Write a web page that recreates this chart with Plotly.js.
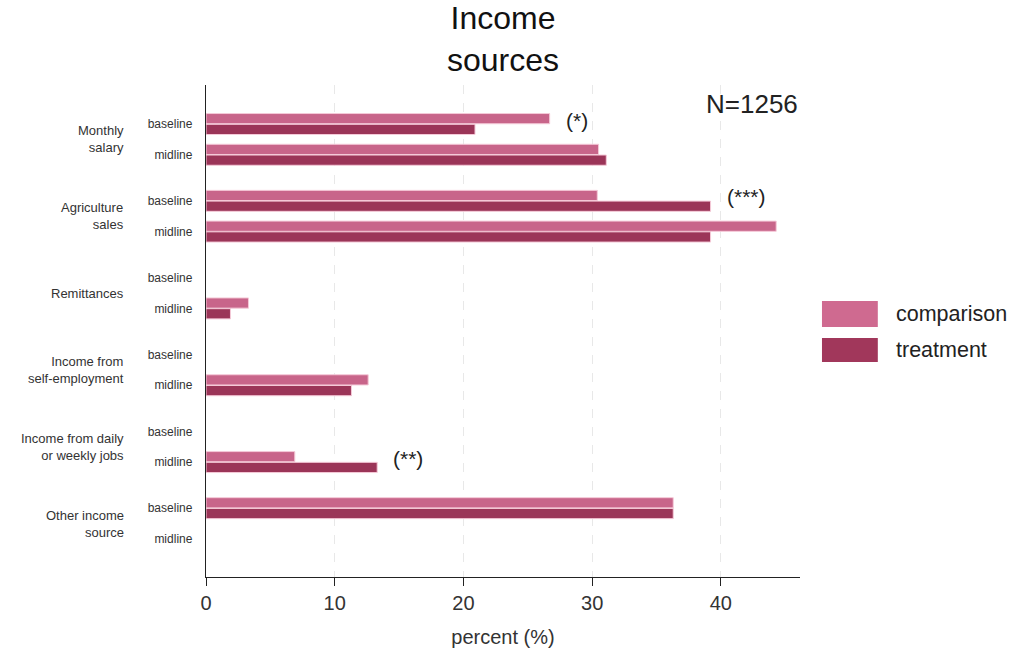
<!DOCTYPE html>
<html>
<head>
<meta charset="utf-8">
<script src="https://cdn.plot.ly/plotly-3.0.1.min.js"></script>
<style>
  html, body { margin: 0; padding: 0; background: #fff; }
  #chart { width: 1013px; height: 652px; }
</style>
</head>
<body>
<div id="chart"></div>
<script>
// Income source categories (group labels) and survey waves
const groups = ['Monthly<br>salary', 'Agriculture<br>sales', 'Remittances',
                'Income from<br>self-employment', 'Income from daily<br>or weekly jobs',
                'Other income<br>source'];
const waves = ['baseline', 'midline'];

// Share of households (%) reporting each income source
const comparisonBaseline = [26.7, 30.4, null, null, null, 36.3];
const comparisonMidline  = [30.5, 44.3, 3.3, 12.6, 6.9, null];
const treatmentBaseline  = [20.9, 39.2, null, null, null, 36.3];
const treatmentMidline   = [31.1, 39.2, 1.9, 11.3, 13.3, null];

// Significance of the comparison/treatment difference
const sigBaseline = ['(*)', '(***)', '', '', '', ''];
const sigMidline  = ['', '', '', '', '(**)', ''];

const sampleNote = 'N=1256';
const seriesNames = ['comparison', 'treatment'];
const colors = ['#c8658a', '#9b3558'];
const swatchColors = ['#cf6a90', '#a1375b'];

// Row positions: each group has a baseline and a midline row
const GROUP_STEP = 2.5;
const rowY = [], rowText = [], compVals = [], treatVals = [], sigText = [];
groups.forEach((g, i) => {
  waves.forEach((w, j) => {
    rowY.push(i * GROUP_STEP + j);
    rowText.push(w);
    compVals.push(j === 0 ? comparisonBaseline[i] : comparisonMidline[i]);
    treatVals.push(j === 0 ? treatmentBaseline[i] : treatmentMidline[i]);
    sigText.push(j === 0 ? sigBaseline[i] : sigMidline[i]);
  });
});

const font = 'Liberation Sans, Arial, Helvetica, sans-serif';

const traces = [compVals, treatVals].map((vals, k) => ({
  type: 'bar',
  orientation: 'h',
  name: seriesNames[k],
  x: vals,
  y: rowY,
  marker: { color: colors[k], line: { color: '#f5cad8', width: 1 } },
  hoverinfo: 'x+name',
  showlegend: false
}));

const annotations = [];

// Group labels on the left
groups.forEach((g, i) => {
  annotations.push({
    text: g, xref: 'paper', yref: 'y',
    x: -0.135, y: i * GROUP_STEP + 0.5,
    xanchor: 'right', yanchor: 'middle', align: 'right',
    showarrow: false,
    font: { family: font, size: 13, color: '#333' }
  });
});

// Significance markers placed just past the longest bar of the row
rowY.forEach((y, r) => {
  if (!sigText[r]) return;
  const maxVal = Math.max(compVals[r] || 0, treatVals[r] || 0);
  annotations.push({
    text: sigText[r], xref: 'x', yref: 'y',
    x: maxVal + 1.1, y: y, yshift: 4,
    xanchor: 'left', yanchor: 'middle',
    showarrow: false,
    font: { family: font, size: 21, color: '#222' }
  });
});

// Sample size note
annotations.push({
  text: sampleNote, xref: 'paper', yref: 'paper',
  x: 1.0, y: 0.961, xanchor: 'right', yanchor: 'middle',
  showarrow: false,
  font: { family: font, size: 26, color: '#222' }
});

// Legend (large swatches)
const legendRows = [
  { y0: 0.508, y1: 0.561, ty: 0.5346 },
  { y0: 0.437, y1: 0.486, ty: 0.4614 }
];
const shapes = [];
legendRows.forEach((row, k) => {
  shapes.push({
    type: 'rect', xref: 'paper', yref: 'paper',
    x0: 1.037, x1: 1.131, y0: row.y0, y1: row.y1,
    fillcolor: swatchColors[k], line: { width: 0 }
  });
  annotations.push({
    text: seriesNames[k], xref: 'paper', yref: 'paper',
    x: 1.158, y: row.ty, xanchor: 'left', yanchor: 'middle',
    showarrow: false,
    font: { family: font, size: 21.5, color: '#222' }
  });
});

const layout = {
  width: 1013, height: 652,
  margin: { l: 206, r: 213, t: 85, b: 75, pad: 0 },
  paper_bgcolor: '#fff', plot_bgcolor: '#fff',
  font: { family: font, color: '#222' },
  title: {
    text: 'Income<br>sources',
    xref: 'paper', x: 0.5, xanchor: 'center',
    yref: 'container', y: 0.955, yanchor: 'top',
    font: { family: font, size: 32, color: '#111' }
  },
  barmode: 'group',
  bargap: 0.3,
  bargroupgap: 0.05,
  xaxis: {
    range: [0, 46.15],
    tickvals: [0, 10, 20, 30, 40],
    ticks: 'outside', ticklen: 8, tickcolor: '#222',
    showline: true, linecolor: '#222', linewidth: 1.2,
    showgrid: true, gridcolor: '#e8e8e8', griddash: 'dash', gridwidth: 1,
    zeroline: false,
    tickfont: { family: font, size: 20, color: '#333' },
    title: { text: 'percent (%)', font: { family: font, size: 20, color: '#333' }, standoff: 16 }
  },
  yaxis: {
    range: [14.74, -1.27],
    tickvals: rowY, ticktext: rowText,
    ticks: 'outside', ticklen: 10, tickcolor: 'rgba(0,0,0,0)',
    showline: true, linecolor: '#222', linewidth: 1.2,
    showgrid: false, zeroline: false,
    tickfont: { family: font, size: 12, color: '#333' }
  },
  annotations: annotations,
  shapes: shapes
};

Plotly.newPlot('chart', traces, layout, { displayModeBar: false, staticPlot: true });
</script>
</body>
</html>
